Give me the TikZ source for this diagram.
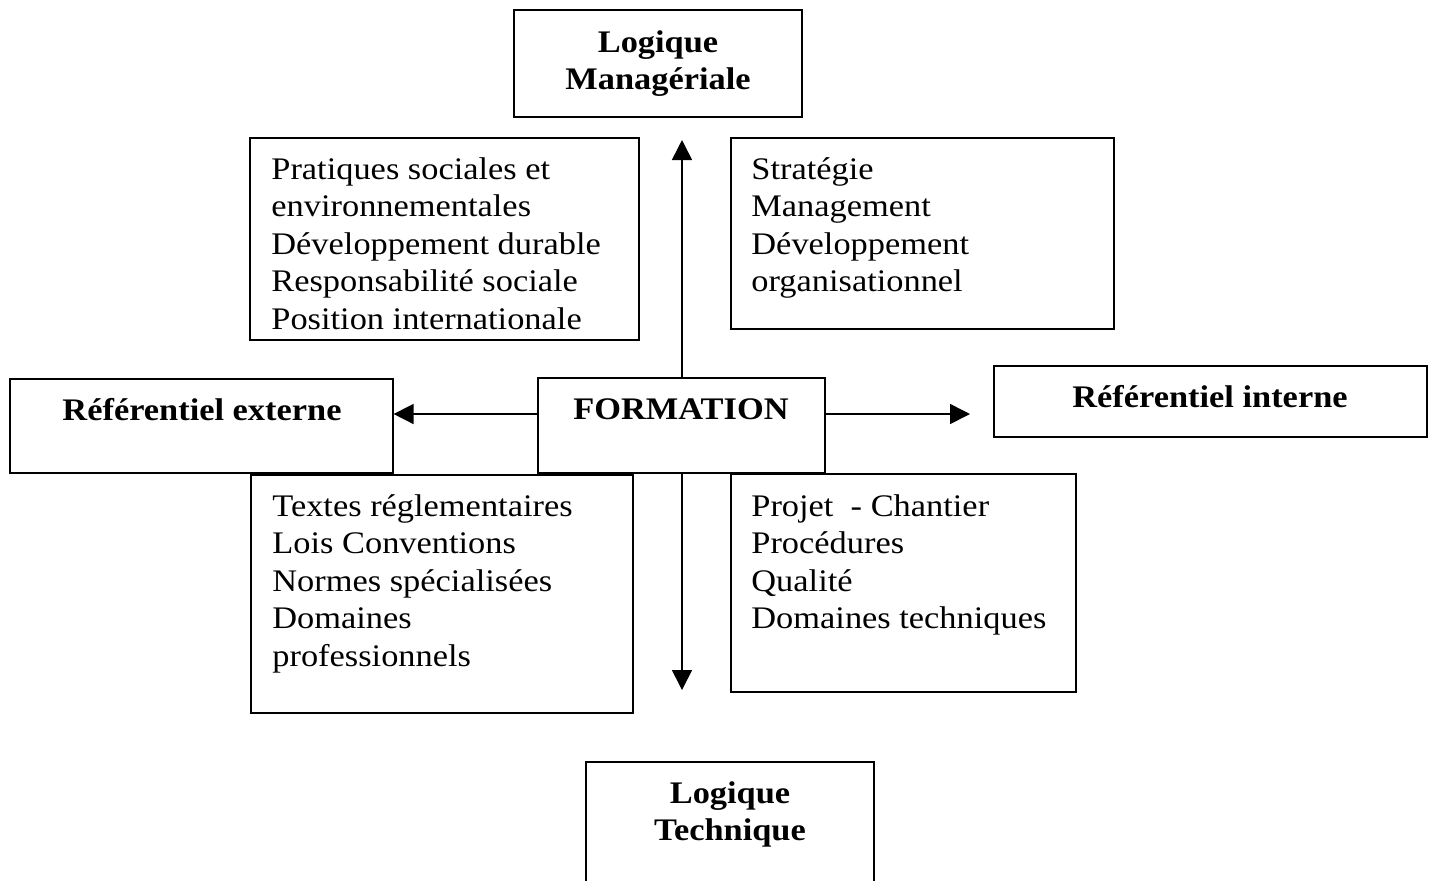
\documentclass[tikz,border=0pt]{standalone}
\usepackage{fontspec}
\setmainfont{Liberation Serif}[FakeStretch=1.095]
\usetikzlibrary{arrows.meta}
\newcommand{\mlines}[1]{\begin{tabular}[t]{@{}l@{}}#1\end{tabular}}
\newcommand{\clines}[1]{\begin{tabular}[t]{@{}c@{}}#1\end{tabular}}
\tikzset{
  box/.style={draw, line width=0.6pt, fill=white, rectangle, inner sep=0pt},
  txt/.style={inner sep=0pt, font=\fontsize{15.7}{18.75}\selectfont},
  btxt/.style={inner sep=0pt, font=\fontsize{15.7}{18.75}\selectfont\bfseries},
  arr/.style={line width=0.8pt, -{Triangle[length=10pt,width=10pt]}},
  darr/.style={line width=0.8pt, {Triangle[length=10pt,width=10pt]}-{Triangle[length=10pt,width=10pt]}}
}
\begin{document}
\begin{tikzpicture}[x=0.5pt,y=-0.5pt]
\clip (0,0) rectangle (1429,880);
\fill[white] (0,0) rectangle (1429,880);
% vertical double arrow (behind boxes)
\coordinate (vtop) at (682,140);
\coordinate (vbot) at (682,690);
\draw[darr] (vtop) -- (vbot);
% boxes
\node[box, minimum width=144pt, minimum height=53.5pt] (lm) at (658,63.5) {};
\node[box, minimum width=194.5pt, minimum height=101pt] (tl) at (444.5,239) {};
\node[box, minimum width=191.5pt, minimum height=95.5pt] (tr) at (922.5,233.5) {};
\node[box, minimum width=191.5pt, minimum height=47pt] (re) at (201.5,426) {};
\node[box, minimum width=143.5pt, minimum height=47.5pt] (fo) at (681.5,425.5) {};
\node[box, minimum width=216.5pt, minimum height=35.5pt] (ri) at (1210.5,401.5) {};
\node[box, minimum width=191pt, minimum height=119pt] (bl) at (442,594) {};
\node[box, minimum width=172.5pt, minimum height=109pt] (br) at (903.5,583) {};
\node[box, minimum width=144pt, minimum height=69pt] (lt) at (730,831) {};
% texts
\node[btxt, anchor=base] (lmt) at (658,52) {\clines{Logique\\Managériale}};
\node[txt, anchor=base west] (tlt) at (271,179) {\mlines{Pratiques sociales et\\environnementales\\Développement durable\\Responsabilité sociale\\Position internationale}};
\node[txt, anchor=base west] (trt) at (751,179) {\mlines{Stratégie\\Management\\Développement\\organisationnel}};
\node[btxt, anchor=base] (ret) at (202,420) {Référentiel externe};
\node[btxt, anchor=base] (fot) at (681,419) {FORMATION};
\node[btxt, anchor=base] (rit) at (1210,407) {Référentiel interne};
\node[txt, anchor=base west] (blt) at (272,516) {\mlines{Textes réglementaires\\Lois Conventions\\Normes spécialisées\\Domaines\\professionnels}};
\node[txt, anchor=base west] (brt) at (751,516) {\mlines{Projet\ \ - Chantier\\Procédures\\Qualité\\Domaines techniques}};
\node[btxt, anchor=base] (ltt) at (730,803) {\clines{Logique\\Technique}};
% horizontal arrows
\coordinate (rtip) at (970,414);
\draw[arr] (fo.west |- 0,414) -- (re.east |- 0,414);
\draw[arr] (fo.east |- 0,414) -- (rtip);
\end{tikzpicture}
\end{document}
